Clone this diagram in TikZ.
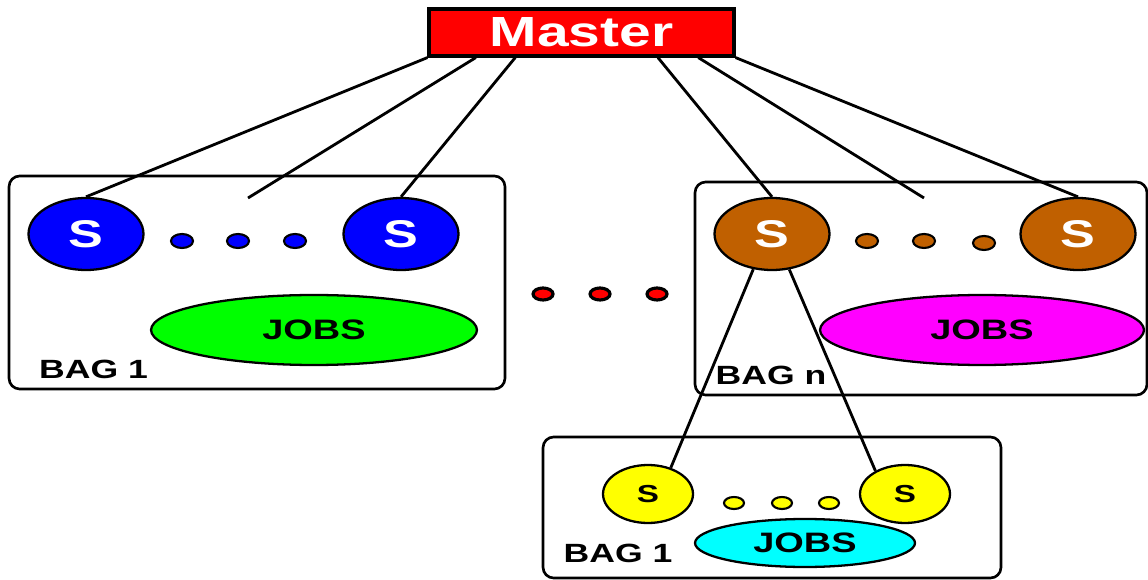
\documentclass[tikz,border=0pt]{standalone}
\usepackage{fontspec}
\newfontfamily\diagfont[FakeStretch=1.35]{Liberation Sans}
\usetikzlibrary{shapes.geometric, calc}
\definecolor{slavebrown}{RGB}{192,96,0}
\definecolor{slaveblue}{RGB}{0,0,255}
\definecolor{slaveyellow}{RGB}{255,255,0}
\definecolor{jobsgreen}{RGB}{0,255,0}
\definecolor{jobsmagenta}{RGB}{255,0,255}
\definecolor{jobscyan}{RGB}{0,255,255}
\definecolor{masterred}{RGB}{255,0,0}

\begin{document}
\begin{tikzpicture}[% styles used in image code
   x = 0.02cm, y = -0.02cm,
 bag/.style = {draw, line width=1.5pt, rounded corners=6pt, inner sep=0pt},
slave/.style = {ellipse, draw, line width=1.3pt,
                minimum width=2.3cm, minimum height=1.44cm, inner sep=0pt,
                font=\diagfont\bfseries\fontsize{22}{22}\selectfont},
small slave/.style = {slave, fill=slaveyellow,
                minimum width=1.8cm, minimum height=1.16cm,
                font=\diagfont\bfseries\fontsize{14}{14}\selectfont},
jobs/.style = {ellipse, draw, line width=1.3pt, inner sep=0pt,
               font=\diagfont\bfseries\fontsize{16}{16}\selectfont},
 dot/.style = {ellipse, draw, line width=1.2pt,
               minimum width=0.44cm, minimum height=0.28cm, inner sep=0pt},
bag name/.style = {inner sep=0pt,
               font=\diagfont\bfseries\fontsize{15}{15}\selectfont},
link/.style = {line width=1.6pt}
                        ]
	\useasboundingbox (0,0) rectangle (1148,580);

	% master
	\node[draw, line width=1.8pt, fill=masterred, text=white, inner sep=0pt,
	      minimum width=6.1cm, minimum height=0.94cm,
	      font=\diagfont\bfseries\fontsize{24}{24}\selectfont]
	      (master) at (581.5,32.5) {Master};

	% bags
	\node[bag, minimum width=9.92cm, minimum height=4.26cm] (bag1) at (257,282.5) {};
	\node[bag, minimum width=9.04cm, minimum height=4.26cm] (bagn) at (921,288.5) {};
	\node[bag, minimum width=9.16cm, minimum height=2.82cm] (bagsub) at (772,507.5) {};

	\node[bag name] (name1) at (93.5,369.5) {BAG 1};
	\node[bag name] (namen) at (771,375) {BAG n};
	\node[bag name] (namesub) at (618,553) {BAG 1};

	% bag 1
	\node[slave, fill=slaveblue, text=white] (s1a) at (86,234) {S};
	\node[slave, fill=slaveblue, text=white] (s1b) at (401,234) {S};
	\node[dot, fill=slaveblue] (d1a) at (182,241) {};
	\node[dot, fill=slaveblue] (d1b) at (238,241) {};
	\node[dot, fill=slaveblue] (d1c) at (295,241) {};
	\node[jobs, fill=jobsgreen, minimum width=6.52cm, minimum height=1.4cm] (jobs1) at (314,330) {JOBS};

	% bag n
	\node[slave, fill=slavebrown, text=white] (sna) at (772,234) {S};
	\node[slave, fill=slavebrown, text=white] (snb) at (1078,234) {S};
	\node[dot, fill=slavebrown] (dna) at (867,241) {};
	\node[dot, fill=slavebrown] (dnb) at (924,241) {};
	\node[dot, fill=slavebrown] (dnc) at (984,243) {};
	\node[jobs, fill=jobsmagenta, minimum width=6.48cm, minimum height=1.4cm] (jobsn) at (982,330) {JOBS};

	% bag below
	\node[small slave] (sya) at (648,494) {S};
	\node[small slave] (syb) at (905,494) {S};
	\node[dot, fill=slaveyellow, minimum width=0.4cm, minimum height=0.24cm] (dya) at (734,503) {};
	\node[dot, fill=slaveyellow, minimum width=0.4cm, minimum height=0.24cm] (dyb) at (782,503) {};
	\node[dot, fill=slaveyellow, minimum width=0.4cm, minimum height=0.24cm] (dyc) at (829,503) {};
	\node[jobs, fill=jobscyan, minimum width=4.4cm, minimum height=0.96cm] (jobsy) at (805,543) {JOBS};

	% dots between bags
	\node[dot, fill=masterred, line width=1.8pt, minimum width=0.4cm, minimum height=0.24cm] (ra) at (543,294) {};
	\node[dot, fill=masterred, line width=1.8pt, minimum width=0.4cm, minimum height=0.24cm] (rb) at (600,294) {};
	\node[dot, fill=masterred, line width=1.8pt, minimum width=0.4cm, minimum height=0.24cm] (rc) at (657,294) {};

	% links
	\coordinate (c1) at (248,198);
	\coordinate (cn) at (924,198);
	\draw[link] (master.south west) -- (s1a.north);
	\draw[link] ($(master.south west)!0.157!(master.south east)$) -- (c1);
	\draw[link] ($(master.south west)!0.285!(master.south east)$) -- (s1b.north);
	\draw[link] ($(master.south west)!0.748!(master.south east)$) -- (sna.north);
	\draw[link] ($(master.south west)!0.879!(master.south east)$) -- (cn);
	\draw[link] (master.south east) -- (snb.north);
	\draw[link] (sna.242) -- (sya.49);
	\draw[link] (sna.296) -- (syb.142);
\end{tikzpicture}
\end{document}
